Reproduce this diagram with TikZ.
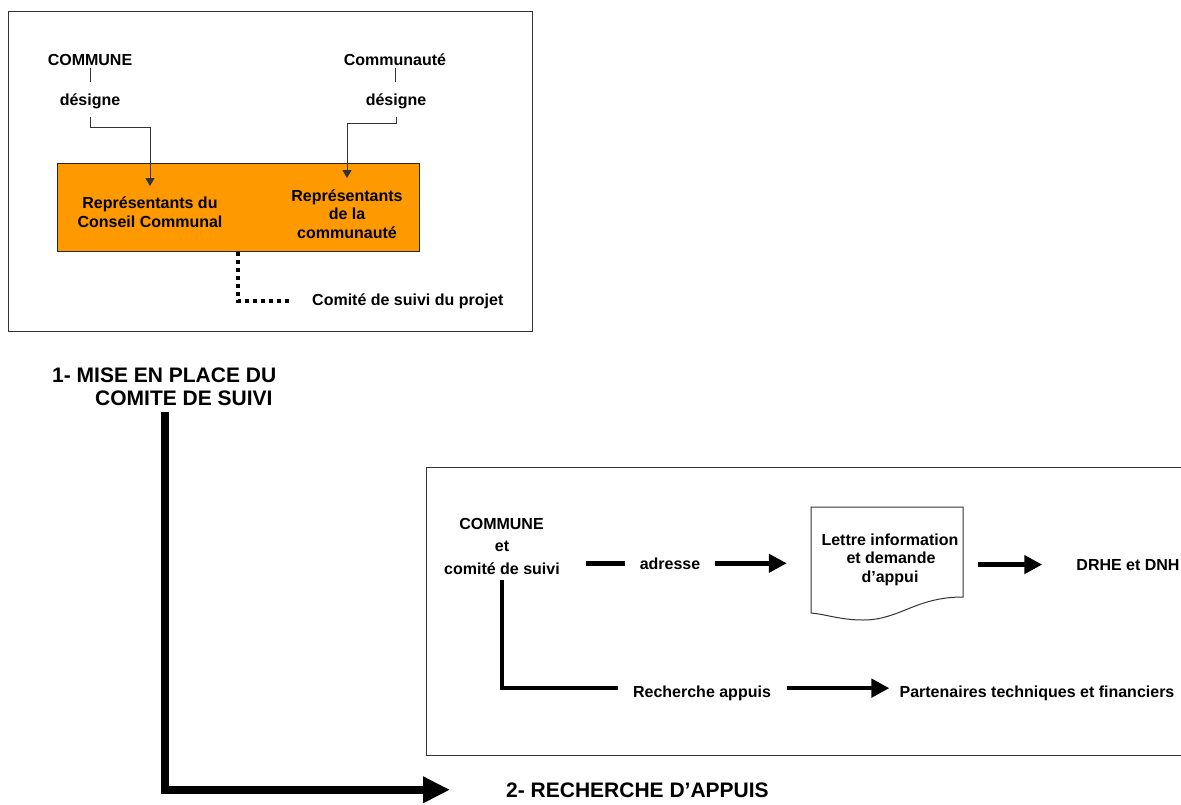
\documentclass[tikz,border=0pt]{standalone}
\usepackage{fontspec}
\setmainfont{Liberation Sans}
\usetikzlibrary{arrows.meta}
\definecolor{orfill}{RGB}{255,153,0}
\tikzset{
  t16/.style={font=\fontsize{16}{19}\selectfont\bfseries, inner sep=0pt, anchor=base},
  t21/.style={font=\fontsize{21}{24}\selectfont\bfseries, inner sep=0pt, anchor=base west},
  frame/.style={draw=black!80, line width=1pt},
  fineconn/.style={draw=black!80, line width=1pt, -{Triangle[length=8pt,width=9pt]}},
  fineline/.style={draw=black!80, line width=1pt},
  dotconn/.style={draw=black, line width=4pt, dash pattern=on 4pt off 4pt},
  thkline/.style={draw=black, line width=4.5pt},
  thkconn/.style={draw=black, line width=4.5pt, -{Triangle[length=18pt,width=18pt]}},
  bigconn/.style={draw=black, line width=8pt, -{Triangle[length=27pt,width=25pt]}},
}
\begin{document}
\begin{tikzpicture}[x=1pt,y=-1pt]
\useasboundingbox (0,0) rectangle (1181,804);
\clip (0,0) rectangle (1181,804);

% ---------- top frame ----------
\draw[frame] (8.7,11) rectangle (532,331);

\node[t16] (c1) at (90,65) {COMMUNE};
\node[t16] (d1) at (90,105) {désigne};
\node[t16] (c2) at (395,65) {Communauté};
\node[t16] (d2) at (396,105) {désigne};

\node[draw=black!85, line width=1pt, fill=orfill, minimum width=362pt, minimum height=88pt, inner sep=0pt] (orb) at (238,207) {};

\node[t16] (rep1a) at (150,208) {Représentants du};
\node[t16] (rep1b) at (150,227) {Conseil Communal};
\node[t16] (rep2a) at (347,201) {Représentants};
\node[t16] (rep2b) at (347,219) {de la};
\node[t16] (rep2c) at (347,238) {communauté};

\node[t16, anchor=base west] (comite1) at (312,305) {Comité de suivi du projet};

\draw[fineline, shorten <=3pt, shorten >=11pt] (c1.south) -- (d1.north);
\draw[fineline, shorten <=3pt, shorten >=11pt] (c2.south) -- (c2.south |- d2.north);
\draw[fineconn, shorten <=8.6pt, shorten >=10pt] (d1.south) -- ++(0,18.6) -| (rep1a.north);
\draw[fineconn, shorten <=8.6pt, shorten >=11pt] (d2.south) -- ++(0,14.6) -| (rep2a.north);

\draw[dotconn, shorten >=20pt] (orb.south) |- (comite1.west);

% ---------- step labels and big arrow ----------
\node[t21] (lab1) at (52,382) {1- MISE EN PLACE DU};
\node[t21] (lab2) at (95,405) {COMITE DE SUIVI};
\node[t21] (lab3) at (506,797) {2- RECHERCHE D’APPUIS};
\coordinate (bt) at (165,412);
\draw[bigconn, shorten >=56pt] (bt) |- (lab3.west);

% ---------- bottom frame ----------
\draw[frame] (426,467) rectangle (1195,755);

\node[t16] (com2) at (501.5,529) {COMMUNE};
\node[t16] (et) at (502,551) {et};
\node[t16] (comsv) at (502,574) {comité de suivi};
\node[t16] (adr) at (670,569) {adresse};

\node[inner sep=0pt, minimum width=152pt, minimum height=90pt] (lettre) at (887,552) {};
\draw[fineline] (811,507) -- (963,507) -- (963,597)
  .. controls (915,597) and (900,620) .. (863,620)
  .. controls (840,620) and (825,614) .. (811,613) -- cycle;
\node[t16] (l1) at (890,545) {Lettre information};
\node[t16] (l2) at (891,563) {et demande};
\node[t16] (l3) at (890,582) {d’appui};

\node[t16] (drhe) at (1128,570) {DRHE et DNH};
\node[t16] (rech) at (702,697) {Recherche appuis};
\node[t16] (part) at (1037,697) {Partenaires techniques et financiers};

\draw[thkline, shorten <=26pt, shorten >=15pt] (adr.west -| comsv.east) -- (adr.west);
\draw[thkconn, shorten <=15pt, shorten >=24pt] (adr.east) -- (lettre.west |- adr.east);
\draw[thkconn, shorten <=15pt, shorten >=34pt] (lettre.east |- drhe.west) -- (drhe.west);
\draw[thkline, shorten <=6pt, shorten >=15pt] (comsv.south) |- ([yshift=4.7pt]rech.west);
\draw[thkconn, shorten <=16pt, shorten >=10pt] ([yshift=4.7pt]rech.east) -- ([yshift=4.7pt]part.west);
\end{tikzpicture}
\end{document}
